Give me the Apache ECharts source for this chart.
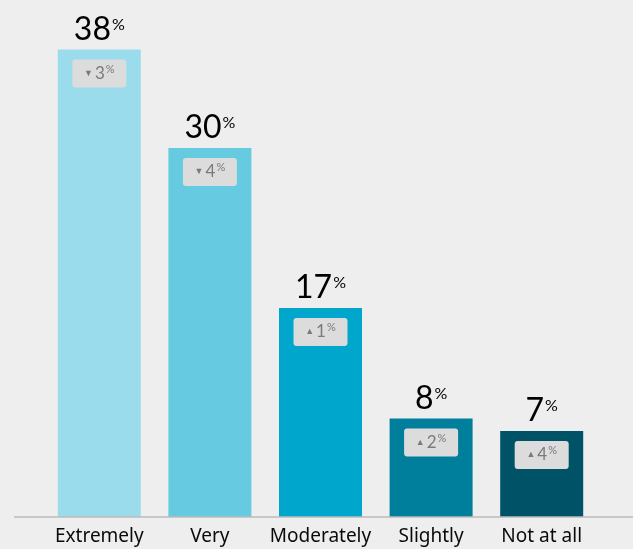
<!DOCTYPE html>
<html>
<head>
<meta charset="utf-8">
<script src="https://cdn.jsdelivr.net/npm/echarts@6/dist/echarts.min.js"></script>
<style>
  html, body { margin: 0; padding: 0; background: #eeeeee; }
  #chart { width: 633px; height: 549px; }
</style>
</head>
<body>
<div id="chart"></div>
<script>
// Share of respondents by level, with change versus the previous wave
const categories = ['Extremely', 'Very', 'Moderately', 'Slightly', 'Not at all'];
const shares = [38, 30, 17, 8, 7];
const changes = [-3, -4, 1, 2, 4];
const barColors = ['#9adcec', '#66cae0', '#00a6cc', '#007f9c', '#005266'];

const chart = echarts.init(document.getElementById('chart'), null, { renderer: 'canvas' });

const GRID_BOTTOM = 32;

chart.setOption({
  backgroundColor: '#eeeeee',
  animation: false,
  grid: { left: 44, right: 36, top: 25, bottom: GRID_BOTTOM },
  xAxis: {
    type: 'category',
    data: categories,
    axisLine: { show: false },
    axisTick: { show: false },
    axisLabel: {
      interval: 0,
      color: '#0a0a0a',
      fontFamily: 'Noto Sans',
      fontSize: 19,
      margin: 10
    }
  },
  yAxis: {
    type: 'value',
    min: 0,
    max: 40,
    show: false,
    splitLine: { show: false }
  },
  series: [
    {
      type: 'bar',
      barWidth: 83,
      data: shares.map((v, i) => ({ value: v, itemStyle: { color: barColors[i] } })),
      label: {
        show: true,
        position: 'top',
        distance: 3,
        formatter: p => '{v|' + p.value + '}{p|%}',
        rich: {
          v: { fontFamily: 'Lato', fontSize: 32, color: '#000000', lineHeight: 34 },
          p: { fontFamily: 'Lato', fontSize: 16, color: '#000000', verticalAlign: 'top', lineHeight: 18, padding: [4, 0, 0, 1] }
        }
      },
      z: 2
    },
    {
      // change badges sitting just inside the top of each bar
      type: 'scatter',
      data: shares,
      symbolSize: 0,
      silent: true,
      itemStyle: { opacity: 1 },
      label: {
        show: true,
        position: 'inside',
        offset: [0, 24],
        backgroundColor: '#dcdcdc',
        borderRadius: 3,
        width: 54,
        height: 28,
        align: 'center',
        verticalAlign: 'middle',
        formatter: p => {
          const c = changes[p.dataIndex];
          return '{t|' + (c < 0 ? '▼' : '▲') + '}{d|' + Math.abs(c) + '}{p|%}';
        },
        rich: {
          t: { fontSize: 9, color: '#7a7a7a', lineHeight: 28, padding: [0, 2, 0, 0] },
          d: { fontFamily: 'Lato', fontSize: 17, color: '#7a7a7a', lineHeight: 28 },
          p: { fontFamily: 'Lato', fontSize: 11, color: '#7a7a7a', verticalAlign: 'top', lineHeight: 12, padding: [4, 0, 0, 1] }
        }
      },
      z: 3
    }
  ],
  graphic: [
    {
      type: 'line',
      shape: { x1: 14, y1: 549 - GRID_BOTTOM, x2: 633, y2: 549 - GRID_BOTTOM },
      style: { stroke: '#bbbbbb', lineWidth: 1.5 },
      z: 10
    }
  ]
});
</script>
</body>
</html>
